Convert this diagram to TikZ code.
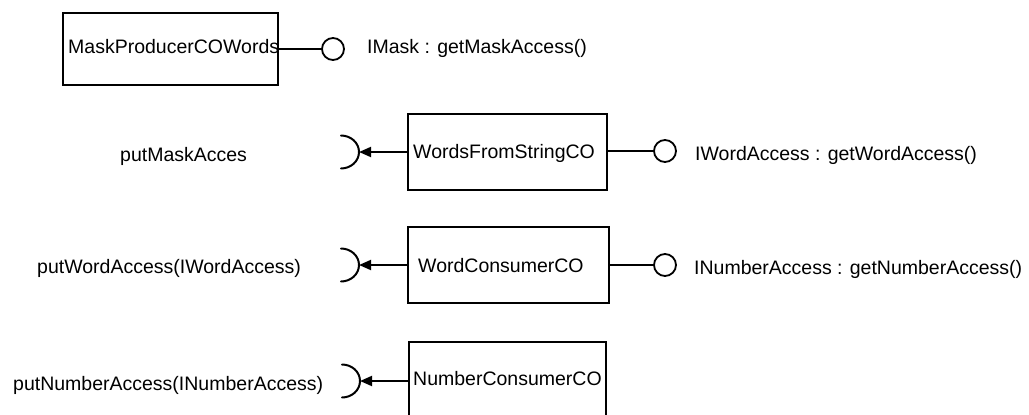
\documentclass[tikz,border=0pt]{standalone}
\usepackage{fontspec}
\setmainfont{Liberation Sans}
\usetikzlibrary{arrows.meta}
\begin{document}
\begin{tikzpicture}[x=1pt,y=-1pt,
  comp/.style={draw, line width=2.2pt, inner sep=0pt, anchor=north west},
  txt/.style={inner sep=0pt, anchor=base west, font=\fontsize{19.5}{23}\selectfont},
  iface/.style={circle, draw, line width=1.8pt, minimum size=22pt, inner sep=0pt},
  conn/.style={line width=1.8pt},
  req/.style={conn, -{Triangle[length=12pt,width=10pt]}},
  sock/.style={line width=2pt, line cap=round}]
\useasboundingbox (0,0) rectangle (1029,415);
\clip (0,0) rectangle (1029,415);

% components
\node[comp, minimum width=215pt, minimum height=72pt] (b1) at (62,12) {};
\node[comp, minimum width=199pt, minimum height=76pt] (b2) at (407,113) {};
\node[comp, minimum width=201pt, minimum height=76pt] (b3) at (407,226) {};
\node[comp, minimum width=197pt, minimum height=100pt] (b4) at (408,341) {};

\node[txt] (t1) at (68,53) {MaskProducerCOWords};
\node[txt] (t2) at (413,158) {WordsFromStringCO};
\node[txt] (t3) at (418,272) {WordConsumerCO};
\node[txt] (t4) at (413,385) {NumberConsumerCO};

% provided interfaces (lollipops)
\node[iface] (c1) at (333,49) {};
\node[iface] (c2) at (665,151) {};
\node[iface] (c3) at (665,265) {};
\draw[conn] (c1.west -| b1.east) -- (c1.west);
\draw[conn] (c2.west -| b2.east) -- (c2.west);
\draw[conn] (c3.west -| b3.east) -- (c3.west);

\node[txt] (r1) at (367,53) {IMask : getMaskAccess()};
\node[txt] (r2) at (695,160) {IWordAccess : getWordAccess()};
\node[txt] (r3) at (694,274) {INumberAccess : getNumberAccess()};

% required interfaces (sockets)
\coordinate (s2) at (359,152);
\coordinate (s3) at (359,265);
\coordinate (s4) at (360,381);
\foreach \s in {s2,s3,s4}{
  \draw[sock] ([shift={(-18,-16.5)}]\s) .. controls ([shift={(-8,-16.5)}]\s) and ([shift={(0,-9)}]\s) .. (\s)
              .. controls ([shift={(0,9)}]\s) and ([shift={(-8,16.5)}]\s) .. ([shift={(-18,16.5)}]\s);
}
\draw[req] (s2 -| b2.west) -- (s2);
\draw[req] (s3 -| b3.west) -- (s3);
\draw[req] (s4 -| b4.west) -- (s4);

\node[txt] (l2) at (120,161) {putMaskAcces};
\node[txt] (l3) at (37,273) {putWordAccess(IWordAccess)};
\node[txt] (l4) at (13,390) {putNumberAccess(INumberAccess)};
\end{tikzpicture}
\end{document}
